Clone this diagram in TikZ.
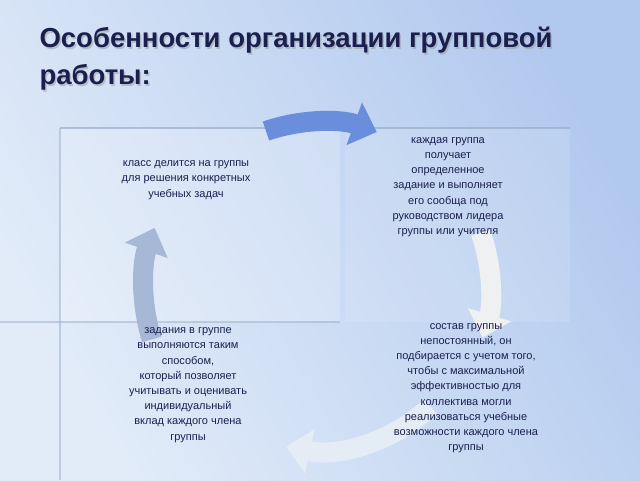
\documentclass[tikz,border=0pt]{standalone}
\usepackage{fontspec}
\setmainfont{Liberation Sans}
\usetikzlibrary{arrows.meta}
\definecolor{ink}{HTML}{1A1F4E}
\definecolor{skyA}{HTML}{E2ECF9}
\definecolor{skyB}{HTML}{B2C9EE}
\definecolor{frame}{HTML}{9AAEC8}
\definecolor{topblue}{HTML}{6A8EDC}
\definecolor{rightgray}{HTML}{EEF0F2}
\definecolor{bottomwhite}{HTML}{E4ECF6}
\definecolor{leftblue}{HTML}{A6B8D6}
\tikzset{
  blocktext/.style={align=center,text=ink,font=\fontsize{11}{15.2}\selectfont},
  cyclearrow/.style={line width=20pt,-{Triangle[width=44pt,length=24pt]}},
}
\begin{document}
\begin{tikzpicture}[x=1pt,y=1pt]
\useasboundingbox (0,0) rectangle (640,480);
% background
\shade[left color=skyA,right color=skyB,shading angle=120] (0,0) rectangle (640,480);
\fill[white,opacity=.2] (60,158) rectangle (340,352);
\fill[white,opacity=.12] (345,158) rectangle (570,352);
\draw[frame,line width=1.5pt,opacity=.7] (60,352) -- (570,352);
\draw[frame,line width=1.5pt,opacity=.5] (60,352) -- (60,0);
\draw[frame,line width=1.5pt,opacity=.5] (0,158) -- (340,158);

% title
\node[anchor=north west,align=left,font=\bfseries\fontsize{27.5}{37}\selectfont,text=black!40,opacity=.5] at (37.5,454.5)
  {Особенности организации групповой\\работы:};
\node (title) [anchor=north west,align=left,font=\bfseries\fontsize{27.5}{37}\selectfont,text=ink] at (36,456)
  {Особенности организации групповой\\работы:};

% cycle arrows
\coordinate (hub) at (320,192);
\draw[cyclearrow,color=topblue] (hub) ++(109:166pt) arc (109:70:166pt);
\draw[cyclearrow,color=rightgray] (hub) ++(19:170pt) arc (19:-17:170pt);
\draw[cyclearrow,color=bottomwhite] (hub) ++(-47:162pt) arc (-47:-102:162pt);
\draw[cyclearrow,color=leftblue] (hub) ++(197:176pt) arc (197:160:176pt);

% text blocks
\node (split) [blocktext] at (186,300) {класс делится на группы\\для решения конкретных\\учебных задач};
\node (task) [blocktext] at (448,293) {каждая группа\\получает\\определенное\\задание и выполняет\\его сообща под\\руководством лидера\\группы или учителя};
\node (staff) [blocktext] at (466,92) {состав группы\\непостоянный, он\\подбирается с учетом того,\\чтобы с максимальной\\эффективностью для\\коллектива могли\\реализоваться учебные\\возможности каждого члена\\группы};
\node (assess) [blocktext] at (188,95) {задания в группе\\выполняются таким\\способом,\\который позволяет\\учитывать и оценивать\\индивидуальный\\вклад каждого члена\\группы};
\end{tikzpicture}
\end{document}
